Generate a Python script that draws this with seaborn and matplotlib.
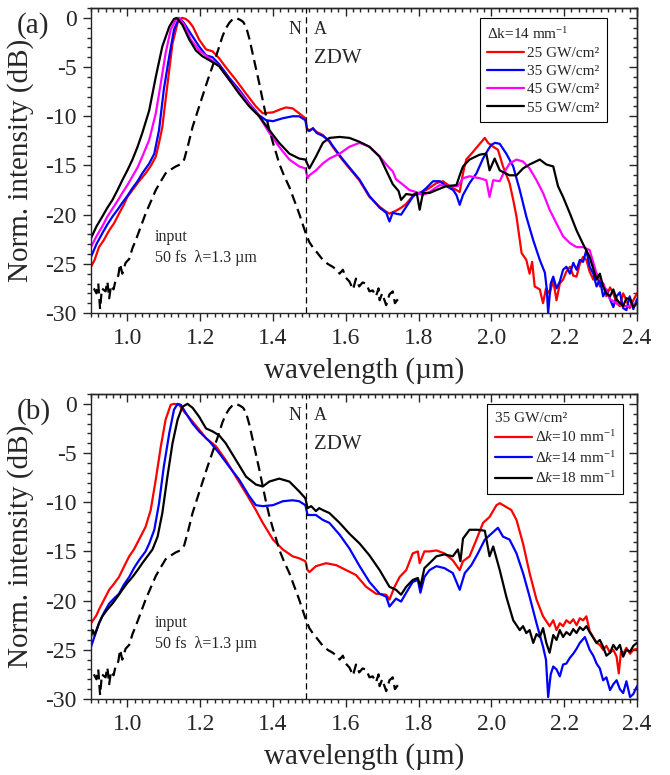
import pandas as pd
import matplotlib
matplotlib.use("Agg")
import matplotlib.pyplot as plt
from matplotlib.lines import Line2D
from matplotlib.ticker import MultipleLocator
import seaborn as sns

# ---- panel (a): pump intensity scan, dk = 14 mm^-1 ----
wl_a25 = [0.900, 0.910, 0.922, 0.935, 0.950, 0.963, 0.977, 0.990, 1.000, 1.016, 1.032, 1.050, 1.065, 1.078,
          1.087, 1.096, 1.105, 1.115, 1.124, 1.138, 1.150, 1.160, 1.170, 1.180, 1.197, 1.216, 1.234, 1.252,
          1.270, 1.298, 1.326, 1.353, 1.372, 1.400, 1.420, 1.436, 1.454, 1.472, 1.489, 1.494, 1.500, 1.510,
          1.520, 1.537, 1.555, 1.564, 1.590, 1.610, 1.637, 1.665, 1.693, 1.711, 1.720, 1.738, 1.752, 1.766,
          1.784, 1.800, 1.821, 1.849, 1.867, 1.885, 1.904, 1.913, 1.922, 1.931, 1.950, 1.968, 1.982, 1.991,
          2.005, 2.018, 2.032, 2.050, 2.060, 2.069, 2.083, 2.096, 2.105, 2.112, 2.119, 2.133, 2.142, 2.150,
          2.160, 2.170, 2.179, 2.188, 2.197, 2.206, 2.216, 2.225, 2.234, 2.243, 2.252, 2.261, 2.270, 2.280,
          2.289, 2.298, 2.307, 2.316, 2.326, 2.335, 2.344, 2.353, 2.362, 2.371, 2.380, 2.390, 2.400]
db_a25 = [-25.3, -24.6, -23.3, -22.6, -21.6, -20.9, -19.9, -19.0, -18.2, -17.4, -16.6, -15.8, -15.0, -14.1,
          -12.7, -11.1, -8.3, -5.3, -2.6, -0.5, 0.0, -0.1, -0.4, -0.9, -2.2, -3.2, -3.4, -4.1,
          -5.0, -6.3, -7.7, -9.0, -9.7, -9.6, -9.3, -9.1, -9.2, -9.7, -10.2, -11.3, -11.4, -11.3,
          -11.6, -11.9, -12.6, -13.1, -14.4, -15.3, -16.5, -18.2, -19.2, -19.7, -19.9, -19.6, -19.3, -18.9,
          -18.1, -17.8, -17.5, -16.8, -16.6, -17.1, -17.5, -17.7, -15.8, -14.4, -13.6, -12.8, -12.2, -12.7,
          -13.1, -13.4, -15.1, -16.8, -18.5, -20.2, -23.9, -24.6, -26.0, -24.8, -27.3, -27.6, -29.0, -27.5,
          -28.0, -26.7, -28.7, -27.0, -26.6, -25.8, -25.3, -26.2, -26.3, -25.0, -24.3, -24.6, -25.8, -26.6,
          -26.0, -27.3, -27.0, -28.3, -27.4, -28.0, -29.0, -29.3, -28.0, -28.7, -29.5, -28.7, -28.0]

wl_a35 = [0.900, 0.915, 0.931, 0.945, 0.959, 0.973, 0.986, 1.000, 1.014, 1.028, 1.041, 1.060, 1.074, 1.087,
          1.100, 1.115, 1.128, 1.142, 1.155, 1.174, 1.197, 1.216, 1.234, 1.252, 1.280, 1.307, 1.335, 1.362,
          1.381, 1.400, 1.427, 1.454, 1.472, 1.489, 1.494, 1.500, 1.510, 1.520, 1.537, 1.555, 1.564, 1.590,
          1.610, 1.637, 1.665, 1.693, 1.711, 1.720, 1.729, 1.738, 1.752, 1.766, 1.784, 1.795, 1.803, 1.821,
          1.840, 1.858, 1.876, 1.895, 1.904, 1.913, 1.922, 1.940, 1.959, 1.977, 1.991, 2.000, 2.010, 2.023,
          2.041, 2.060, 2.078, 2.096, 2.115, 2.133, 2.147, 2.152, 2.156, 2.163, 2.170, 2.179, 2.188, 2.197,
          2.206, 2.216, 2.225, 2.234, 2.243, 2.252, 2.261, 2.270, 2.280, 2.289, 2.298, 2.307, 2.316, 2.326,
          2.335, 2.344, 2.353, 2.362, 2.371, 2.380, 2.390, 2.400]
db_a35 = [-24.3, -23.0, -21.9, -21.0, -20.2, -19.5, -18.8, -18.1, -17.3, -16.6, -15.8, -14.8, -13.8, -11.4,
          -7.3, -3.9, -1.2, 0.0, -0.5, -1.6, -2.9, -3.8, -4.0, -4.7, -6.1, -7.3, -8.7, -9.9,
          -10.4, -10.5, -10.2, -10.0, -10.0, -10.4, -11.4, -11.5, -11.2, -11.7, -12.0, -12.5, -13.0, -14.3,
          -15.2, -16.4, -18.1, -19.3, -19.8, -20.7, -19.8, -19.9, -20.0, -19.2, -18.2, -17.8, -17.9, -17.3,
          -16.6, -16.6, -17.1, -17.5, -18.0, -19.0, -18.0, -16.8, -15.8, -14.3, -13.4, -12.9, -12.7, -12.8,
          -13.8, -15.1, -17.5, -20.2, -22.6, -24.6, -25.9, -27.5, -30.0, -27.0, -26.3, -27.5, -26.8, -25.6,
          -25.3, -26.0, -24.9, -25.6, -24.6, -24.8, -23.6, -25.3, -26.0, -27.3, -26.6, -28.3, -27.6, -28.6,
          -29.4, -28.3, -27.9, -29.5, -29.7, -28.3, -29.6, -28.6]

wl_a45 = [0.900, 0.915, 0.931, 0.945, 0.959, 0.973, 0.986, 1.000, 1.014, 1.028, 1.041, 1.060, 1.078, 1.092,
          1.105, 1.119, 1.133, 1.142, 1.156, 1.174, 1.197, 1.225, 1.252, 1.280, 1.307, 1.335, 1.362, 1.390,
          1.417, 1.445, 1.472, 1.489, 1.495, 1.500, 1.518, 1.537, 1.555, 1.583, 1.610, 1.638, 1.665, 1.693,
          1.716, 1.729, 1.738, 1.752, 1.775, 1.793, 1.812, 1.830, 1.858, 1.885, 1.908, 1.922, 1.940, 1.968,
          1.986, 1.995, 2.005, 2.023, 2.032, 2.050, 2.069, 2.087, 2.105, 2.124, 2.142, 2.160, 2.179, 2.197,
          2.216, 2.234, 2.252, 2.270, 2.289, 2.307, 2.326, 2.344, 2.362, 2.381, 2.400]
db_a45 = [-23.3, -22.2, -21.2, -20.2, -19.4, -18.6, -17.8, -17.0, -16.1, -15.2, -14.1, -12.4, -9.7, -6.6,
          -3.6, -1.2, -0.2, 0.0, -0.7, -2.2, -3.3, -4.1, -4.9, -6.3, -7.5, -8.8, -10.0, -11.7,
          -13.1, -14.4, -15.1, -15.3, -16.3, -16.0, -15.5, -14.8, -14.3, -13.8, -13.1, -12.7, -13.1, -14.1,
          -15.1, -15.6, -16.4, -16.8, -17.5, -17.7, -18.0, -17.7, -17.0, -17.1, -17.1, -16.3, -16.1, -16.3,
          -16.5, -18.2, -16.5, -16.6, -15.9, -14.8, -14.4, -14.6, -15.3, -16.5, -17.8, -19.5, -20.9, -22.2,
          -22.9, -23.3, -23.3, -23.6, -26.0, -27.0, -28.6, -29.0, -29.3, -29.3, -29.0]

wl_a55 = [0.900, 0.915, 0.931, 0.945, 0.959, 0.973, 0.986, 1.000, 1.014, 1.028, 1.041, 1.060, 1.078, 1.096,
          1.115, 1.128, 1.136, 1.151, 1.170, 1.188, 1.206, 1.225, 1.252, 1.280, 1.307, 1.335, 1.362, 1.390,
          1.417, 1.445, 1.472, 1.489, 1.500, 1.518, 1.537, 1.555, 1.583, 1.610, 1.638, 1.665, 1.693, 1.711,
          1.729, 1.745, 1.752, 1.766, 1.784, 1.795, 1.803, 1.812, 1.830, 1.849, 1.876, 1.904, 1.913, 1.922,
          1.940, 1.968, 1.986, 1.995, 2.009, 2.023, 2.050, 2.069, 2.087, 2.105, 2.133, 2.151, 2.170, 2.183,
          2.197, 2.216, 2.234, 2.252, 2.270, 2.289, 2.298, 2.307, 2.316, 2.326, 2.335, 2.344, 2.353, 2.362,
          2.371, 2.381, 2.390, 2.400]
db_a55 = [-22.4, -21.2, -20.2, -19.3, -18.5, -17.5, -16.5, -15.5, -14.4, -13.1, -11.7, -9.4, -6.0, -2.9,
          -0.9, -0.1, 0.0, -0.7, -2.2, -3.3, -3.9, -4.3, -4.9, -6.3, -7.7, -9.0, -10.0, -11.4,
          -12.7, -13.8, -14.3, -14.4, -15.3, -14.1, -12.7, -12.2, -12.1, -12.2, -12.6, -13.1, -14.1, -15.5,
          -16.9, -17.6, -18.5, -17.9, -18.0, -17.8, -19.5, -17.8, -17.8, -17.5, -17.1, -17.0, -16.0, -15.1,
          -14.4, -13.9, -13.8, -15.5, -14.3, -15.5, -16.0, -16.0, -15.3, -14.9, -14.4, -14.9, -15.1, -17.1,
          -18.2, -19.9, -21.6, -23.0, -24.3, -26.6, -26.0, -27.3, -28.0, -28.3, -27.6, -28.6, -29.0, -29.3,
          -28.5, -28.6, -29.4, -29.0]

# ---- panel (b): phase mismatch scan, 35 GW/cm^2 ----
wl_b10 = [0.900, 0.915, 0.922, 0.936, 0.950, 0.963, 0.977, 0.990, 1.005, 1.018, 1.032, 1.050, 1.064, 1.078,
          1.092, 1.105, 1.119, 1.128, 1.142, 1.156, 1.179, 1.197, 1.216, 1.243, 1.270, 1.298, 1.326, 1.353,
          1.372, 1.400, 1.427, 1.454, 1.472, 1.489, 1.495, 1.500, 1.518, 1.546, 1.574, 1.601, 1.628, 1.656,
          1.683, 1.711, 1.720, 1.734, 1.748, 1.766, 1.784, 1.798, 1.803, 1.816, 1.830, 1.849, 1.871, 1.894,
          1.913, 1.922, 1.940, 1.959, 1.977, 1.995, 2.014, 2.023, 2.037, 2.055, 2.069, 2.087, 2.105, 2.124,
          2.142, 2.160, 2.170, 2.179, 2.188, 2.197, 2.206, 2.216, 2.225, 2.234, 2.243, 2.252, 2.261, 2.270,
          2.289, 2.298, 2.307, 2.316, 2.326, 2.335, 2.344, 2.350, 2.356, 2.362, 2.371, 2.381, 2.390, 2.400]
db_b10 = [-22.3, -21.5, -20.9, -19.9, -18.9, -18.3, -17.6, -16.6, -15.5, -14.8, -13.8, -12.5, -10.8, -7.7,
          -4.3, -1.6, -0.1, 0.0, -0.1, -0.8, -1.8, -2.6, -3.5, -4.3, -5.7, -7.4, -9.1, -10.8,
          -12.1, -13.8, -14.8, -15.5, -15.7, -16.0, -16.9, -17.1, -16.5, -16.2, -16.4, -16.9, -17.4, -18.6,
          -19.3, -19.4, -19.9, -18.6, -17.6, -16.9, -15.2, -15.0, -16.2, -15.0, -15.0, -14.9, -15.2, -15.9,
          -16.9, -16.0, -15.5, -13.8, -12.1, -11.5, -10.3, -10.1, -10.4, -10.8, -11.8, -14.2, -17.2, -19.9,
          -21.6, -22.6, -22.0, -23.0, -22.3, -22.6, -22.0, -22.3, -21.9, -22.5, -21.8, -22.0, -21.6, -23.1,
          -24.3, -24.5, -25.0, -24.6, -25.3, -25.0, -25.7, -27.4, -25.2, -25.4, -24.8, -25.4, -25.0, -24.9]

wl_b14 = [0.900, 0.922, 0.936, 0.950, 0.963, 0.977, 0.990, 1.005, 1.018, 1.032, 1.050, 1.060, 1.074, 1.087,
          1.100, 1.115, 1.128, 1.138, 1.147, 1.160, 1.179, 1.197, 1.225, 1.252, 1.280, 1.307, 1.335, 1.353,
          1.372, 1.400, 1.427, 1.454, 1.472, 1.489, 1.495, 1.518, 1.537, 1.555, 1.583, 1.610, 1.638, 1.665,
          1.693, 1.711, 1.720, 1.738, 1.752, 1.766, 1.784, 1.798, 1.805, 1.816, 1.830, 1.849, 1.871, 1.894,
          1.913, 1.927, 1.945, 1.963, 1.982, 2.000, 2.018, 2.032, 2.050, 2.069, 2.087, 2.105, 2.124, 2.142,
          2.150, 2.156, 2.163, 2.170, 2.179, 2.188, 2.197, 2.206, 2.216, 2.225, 2.234, 2.243, 2.257, 2.270,
          2.280, 2.289, 2.298, 2.307, 2.316, 2.326, 2.335, 2.344, 2.353, 2.362, 2.371, 2.381, 2.390, 2.400]
db_b14 = [-24.7, -22.3, -21.2, -20.3, -19.8, -19.3, -18.4, -17.6, -16.7, -15.9, -15.0, -14.2, -12.8, -10.1,
          -6.4, -3.0, -0.6, 0.0, -0.1, -0.9, -2.0, -2.8, -3.8, -5.0, -6.4, -7.7, -9.4, -10.3,
          -10.4, -10.3, -9.9, -9.8, -9.9, -10.3, -11.3, -11.3, -11.8, -12.1, -13.3, -14.7, -16.5, -18.1,
          -19.3, -19.6, -20.6, -19.8, -20.1, -19.2, -18.1, -17.9, -19.2, -17.6, -16.9, -16.5, -16.7, -17.2,
          -18.9, -17.2, -16.4, -15.2, -13.8, -13.2, -12.6, -13.5, -13.8, -15.2, -17.2, -19.6, -22.3, -24.7,
          -26.0, -29.8, -27.5, -26.7, -27.0, -27.7, -26.5, -26.4, -25.8, -25.4, -24.9, -24.3, -23.7, -25.0,
          -25.6, -26.4, -26.9, -28.1, -27.8, -29.1, -28.5, -28.1, -29.0, -29.4, -28.2, -29.8, -29.5, -28.7]

wl_b18 = [0.900, 0.905, 0.910, 0.922, 0.931, 0.945, 0.959, 0.973, 0.986, 1.000, 1.014, 1.028, 1.041, 1.055,
          1.069, 1.083, 1.096, 1.110, 1.124, 1.138, 1.151, 1.165, 1.179, 1.197, 1.216, 1.234, 1.252, 1.270,
          1.298, 1.326, 1.353, 1.372, 1.390, 1.417, 1.445, 1.472, 1.489, 1.495, 1.505, 1.518, 1.527, 1.537,
          1.555, 1.583, 1.610, 1.638, 1.665, 1.693, 1.720, 1.738, 1.752, 1.766, 1.784, 1.798, 1.805, 1.816,
          1.830, 1.849, 1.871, 1.894, 1.908, 1.915, 1.922, 1.940, 1.963, 1.982, 1.995, 2.005, 2.023, 2.041,
          2.060, 2.078, 2.087, 2.096, 2.105, 2.115, 2.124, 2.133, 2.142, 2.151, 2.160, 2.170, 2.179, 2.188,
          2.197, 2.206, 2.216, 2.225, 2.234, 2.243, 2.252, 2.261, 2.270, 2.289, 2.298, 2.307, 2.316, 2.326,
          2.335, 2.344, 2.353, 2.362, 2.371, 2.381, 2.390, 2.400]
db_b18 = [-23.7, -23.0, -23.5, -22.3, -21.6, -20.9, -20.3, -19.6, -18.9, -18.2, -17.6, -16.9, -16.2, -15.5,
          -14.8, -13.5, -11.1, -7.4, -4.0, -1.6, -0.3, 0.0, -0.4, -1.3, -2.5, -2.8, -3.2, -4.0,
          -5.7, -7.4, -8.2, -8.4, -7.9, -7.6, -7.9, -8.9, -9.6, -10.6, -10.4, -10.9, -10.6, -10.8,
          -11.1, -12.1, -13.2, -14.2, -15.4, -16.9, -18.6, -18.9, -19.4, -18.6, -17.9, -17.7, -18.6, -16.7,
          -16.2, -15.5, -15.3, -15.5, -14.8, -16.0, -13.7, -12.8, -12.8, -12.9, -15.5, -14.5, -16.9, -19.6,
          -22.0, -23.0, -22.6, -23.3, -23.0, -24.3, -23.4, -23.7, -22.8, -24.3, -25.3, -23.5, -24.0, -23.0,
          -23.7, -23.2, -23.5, -22.9, -23.3, -22.7, -23.0, -22.6, -23.2, -24.3, -24.0, -24.7, -25.6, -25.3,
          -24.5, -25.0, -24.5, -25.7, -25.0, -25.2, -24.6, -24.3]

# ---- input pulse spectrum (same in both panels) ----
wl_in = [0.908, 0.915, 0.920, 0.925, 0.930, 0.940, 0.945, 0.950, 0.955, 0.962, 0.968, 0.975, 0.980, 0.986,
         0.995, 1.005, 1.014, 1.023, 1.036, 1.050, 1.064, 1.078, 1.092, 1.105, 1.120, 1.133, 1.145, 1.156,
         1.167, 1.179, 1.192, 1.206, 1.220, 1.234, 1.248, 1.261, 1.270, 1.280, 1.290, 1.298, 1.310, 1.318,
         1.326, 1.335, 1.344, 1.353, 1.362, 1.372, 1.381, 1.390, 1.400, 1.410, 1.417, 1.430, 1.445, 1.458,
         1.472, 1.480, 1.490, 1.500, 1.509, 1.520, 1.537, 1.550, 1.564, 1.575, 1.583, 1.592, 1.600, 1.610,
         1.620, 1.628, 1.637, 1.646, 1.656, 1.665, 1.674, 1.683, 1.690, 1.693, 1.700, 1.711, 1.720, 1.729,
         1.735, 1.743]
db_in = [-27.5, -28.0, -27.0, -29.6, -27.5, -27.8, -26.8, -28.5, -27.2, -27.6, -26.6, -26.2, -25.0, -26.0,
         -24.9, -24.5, -23.4, -22.6, -21.3, -19.9, -18.7, -17.5, -16.6, -15.8, -15.4, -15.1, -14.9, -14.4,
         -12.9, -11.1, -9.6, -8.0, -6.4, -4.9, -3.4, -1.9, -1.1, -0.5, -0.1, 0.0, -0.2, -0.4,
         -0.9, -2.1, -3.6, -5.1, -6.6, -8.4, -10.0, -11.4, -12.7, -13.9, -14.8, -16.0, -17.2, -18.5,
         -19.9, -20.8, -21.9, -22.8, -23.3, -23.8, -24.6, -25.0, -25.3, -25.6, -26.0, -25.6, -26.4, -26.8,
         -27.6, -26.5, -27.3, -26.9, -27.0, -27.8, -27.7, -28.3, -27.5, -28.7, -28.0, -29.2, -28.1, -27.8,
         -29.0, -28.6]

zdw = 1.49

labels_a = ["25 GW/cm²", "35 GW/cm²", "45 GW/cm²", "55 GW/cm²"]
colors_a = ["#ff0000", "#0000ff", "#ff00ff", "#000000"]
labels_b = ["Δ$k$=10 mm$^{-1}$", "Δ$k$=14 mm$^{-1}$", "Δ$k$=18 mm$^{-1}$"]
colors_b = ["#ff0000", "#0000ff", "#000000"]


def make_df(wls, dbs, labels):
    parts = []
    for wl, db, lab in zip(wls, dbs, labels):
        parts.append(pd.DataFrame({"wavelength": wl, "intensity": db, "series": lab}))
    return pd.concat(parts, ignore_index=True)


df_a = make_df([wl_a25, wl_a35, wl_a45, wl_a55], [db_a25, db_a35, db_a45, db_a55], labels_a)
df_b = make_df([wl_b10, wl_b14, wl_b18], [db_b10, db_b14, db_b18], labels_b)
df_in = pd.DataFrame({"wavelength": wl_in, "intensity": db_in})

sns.set_style("ticks")
plt.rcParams["font.family"] = ["Liberation Serif", "DejaVu Serif"]
plt.rcParams["mathtext.fontset"] = "custom"
plt.rcParams["mathtext.rm"] = "Liberation Serif"
plt.rcParams["mathtext.it"] = "Liberation Serif:italic"
plt.rcParams["axes.unicode_minus"] = False
plt.rcParams["axes.linewidth"] = 1.0

fig = plt.figure(figsize=(6.7, 7.75), dpi=100)
ax_a = fig.add_axes([0.1358, 0.5961, 0.8149, 0.3935])
ax_b = fig.add_axes([0.1358, 0.0981, 0.8149, 0.3935])


def style_axes(ax):
    ax.set_xlim(0.9, 2.4)
    ax.set_ylim(-30, 1.0)
    ax.xaxis.set_major_locator(MultipleLocator(0.2))
    ax.xaxis.set_minor_locator(MultipleLocator(0.02))
    ax.yaxis.set_major_locator(MultipleLocator(5))
    ax.yaxis.set_minor_locator(MultipleLocator(1))
    ax.xaxis.set_major_formatter(matplotlib.ticker.FormatStrFormatter("%.1f"))
    ax.tick_params(which="both", direction="out", top=False, right=False, width=1.0)
    ax.tick_params(which="major", length=6, labelsize=17, pad=4.5)
    ax.tick_params(which="minor", length=3)
    # mirrored ticks pointing inwards on top and right
    top = ax.secondary_xaxis("top")
    top.xaxis.set_major_locator(MultipleLocator(0.2))
    top.xaxis.set_minor_locator(MultipleLocator(0.02))
    top.tick_params(which="both", direction="in", labeltop=False, width=1.0)
    top.tick_params(which="major", length=6)
    top.tick_params(which="minor", length=3)
    right = ax.secondary_yaxis("right")
    right.yaxis.set_major_locator(MultipleLocator(5))
    right.yaxis.set_minor_locator(MultipleLocator(1))
    right.tick_params(which="both", direction="in", labelright=False, width=1.0)
    right.tick_params(which="major", length=6)
    right.tick_params(which="minor", length=3)
    ax.set_xlabel("wavelength (µm)", fontsize=21)
    ax.set_ylabel("Norm. intensity (dB)", fontsize=21)
    ax.xaxis.set_label_coords(0.5, -0.145)
    ax.yaxis.set_label_coords(-0.105, 0.5)
    ax.axvline(zdw, color="black", lw=0.9, ls=(0, (5, 3)))
    ax.text(1.459, -1.2, "N", fontsize=13, ha="center", va="center")
    ax.text(1.530, -1.2, "A", fontsize=13, ha="center", va="center")
    ax.text(1.512, -4.1, "ZDW", fontsize=15, ha="left", va="center")
    ax.text(1.075, -22.3, "input", fontsize=11.5, ha="left", va="center")
    ax.text(1.075, -24.4, "50 fs  λ=1.3 µm", fontsize=11.5, ha="left", va="center")


for ax, df, labels, colors, title, anchor in [
    (ax_a, df_a, labels_a, colors_a, "Δk=14 mm$^{-1}$", (0.945, 0.967)),
    (ax_b, df_b, labels_b, colors_b, "35 GW/cm²", (0.975, 0.967)),
]:
    sns.lineplot(data=df, x="wavelength", y="intensity", hue="series", hue_order=labels,
                 palette=colors, estimator=None, sort=False, lw=1.6, legend=False, ax=ax)
    sns.lineplot(data=df_in, x="wavelength", y="intensity", color="black", lw=1.6,
                 linestyle=(0, (4.5, 2.5)), estimator=None, sort=False, ax=ax)
    style_axes(ax)
    handles = [Line2D([], [], color=c, lw=1.6) for c in colors]
    leg = ax.legend(handles, labels, title=title, loc="upper right", bbox_to_anchor=anchor,
                    fontsize=11, title_fontsize=11, alignment="left", frameon=True, fancybox=False,
                    framealpha=1, edgecolor="black", handlelength=2.4, handletextpad=0.2,
                    labelspacing=0.3, borderpad=0.5, borderaxespad=0)
    leg.get_frame().set_linewidth(0.8)

fig.text(17 / 670, 1 - 33 / 775, "(a)", fontsize=21, ha="left", va="baseline")
fig.text(17 / 670, 1 - 419 / 775, "(b)", fontsize=21, ha="left", va="baseline")

fig.savefig("out.png", dpi=100)
plt.close(fig)
